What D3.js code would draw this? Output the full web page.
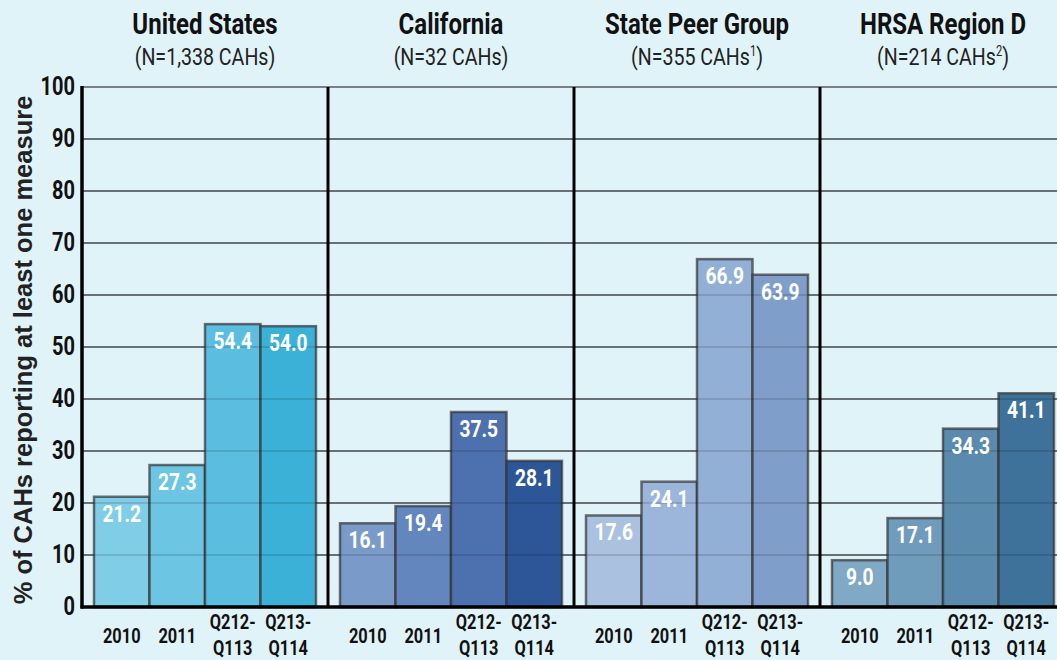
<!DOCTYPE html>
<html>
<head>
<meta charset="utf-8">
<script src="https://cdn.jsdelivr.net/npm/d3@7"></script>
<style>
  body { margin: 0; background: #e0f3f9; }
  svg { display: block; }
  .cond { font-family: Roboto, "Noto Sans", sans-serif; }
</style>
</head>
<body>
<div id="chart"></div>
<script>
// data
var groups = ["United States", "California", "State Peer Group", "HRSA Region D"];
var subtitles = ["(N=1,338 CAHs", "(N=32 CAHs", "(N=355 CAHs", "(N=214 CAHs"];
var notes = ["", "", "1", "2"];
var periods = ["2010", "2011", "Q212-Q113", "Q213-Q114"];
var usVals = [21.2, 27.3, 54.4, 54.0];
var caVals = [16.1, 19.4, 37.5, 28.1];
var peerVals = [17.6, 24.1, 66.9, 63.9];
var hrsaVals = [9.0, 17.1, 34.3, 41.1];
var yTicks = [0, 10, 20, 30, 40, 50, 60, 70, 80, 90, 100];

var colors = [
  ["#80cde7", "#6cc5e2", "#5bbde0", "#3cb1d7"],
  ["#7a9bc9", "#6386be", "#4d70af", "#2c5698"],
  ["#aac1df", "#9bb6da", "#92afd6", "#7f9ec9"],
  ["#80a9c5", "#6f9cbb", "#5a8bae", "#3e729a"]
];

var allVals = [usVals, caVals, peerVals, hrsaVals];
var data = [];
groups.forEach(function(g, gi){
  periods.forEach(function(p, pi){
    data.push({group: g, period: p, value: allVals[gi][pi], color: colors[gi][pi]});
  });
});

var W = 1057, H = 660;
var SX = 0.8; // squeeze to look like a condensed face
var svg = d3.select("#chart").append("svg").attr("width", W).attr("height", H);
svg.append("rect").attr("width", W).attr("height", H).attr("fill", "#e0f3f9");

var y = d3.scaleLinear().domain([0, 100]).range([607, 87]);
var x0 = d3.scaleBand().domain(groups).range([82, 1066]);
var x1 = d3.scaleBand().domain(periods).range([12, 234]);

var barX = function(d){ return x0(d.group) + x1(d.period); };
var place = function(x, y){ return "translate(" + x + "," + y + ") scale(" + SX + ",1)"; };

// gridlines
svg.append("g").selectAll("line").data(yTicks.slice(1)).enter().append("line")
  .attr("x1", 82).attr("x2", W).attr("y1", function(d){ return y(d); }).attr("y2", function(d){ return y(d); })
  .attr("stroke", "#111").attr("stroke-width", 1.2);

// bars
svg.selectAll(".bar").data(data).enter().append("rect")
  .attr("class", "bar")
  .attr("x", barX)
  .attr("width", x1.bandwidth())
  .attr("y", function(d){ return y(d.value); })
  .attr("height", function(d){ return y(0) - y(d.value); })
  .attr("fill", function(d){ return d.color; })
  .attr("stroke", "#333").attr("stroke-opacity", 0.7).attr("stroke-width", 2.5);

// gridlines showing through the bars
svg.append("g").selectAll("line").data(yTicks.slice(1, 10)).enter().append("line")
  .attr("x1", 82).attr("x2", W).attr("y1", function(d){ return y(d); }).attr("y2", function(d){ return y(d); })
  .attr("stroke", "#000").attr("stroke-opacity", 0.25).attr("stroke-width", 1.2);

// value labels
svg.selectAll(".val").data(data).enter().append("text")
  .attr("class", "cond")
  .attr("transform", function(d){ return place(barX(d) + x1.bandwidth() / 2, y(d.value) + 25); })
  .attr("text-anchor", "middle")
  .attr("font-size", 24).attr("font-weight", "bold").attr("fill", "#fff")
  .text(function(d){ return d.value.toFixed(1); });

// panel dividers
svg.selectAll(".div").data(groups.slice(1)).enter().append("line")
  .attr("x1", function(d){ return x0(d); }).attr("x2", function(d){ return x0(d); })
  .attr("y1", y(100)).attr("y2", y(0))
  .attr("stroke", "#000").attr("stroke-width", 3);

// axes lines
svg.append("line").attr("x1", 82).attr("x2", 82).attr("y1", y(100) - 1).attr("y2", y(0) + 1.5)
  .attr("stroke", "#000").attr("stroke-width", 3.5);
svg.append("line").attr("x1", 80.5).attr("x2", W).attr("y1", y(0)).attr("y2", y(0))
  .attr("stroke", "#000").attr("stroke-width", 3.5);

// y tick labels
svg.selectAll(".ytick").data(yTicks).enter().append("text")
  .attr("class", "cond")
  .attr("transform", function(d){ return place(75, y(d) + 8); })
  .attr("text-anchor", "end").attr("font-size", 25).attr("font-weight", "bold").attr("fill", "#111")
  .text(function(d){ return d; });

// y axis title
svg.append("text")
  .attr("transform", "translate(32," + (y(50) + 3) + ") rotate(-90)")
  .attr("text-anchor", "middle")
  .attr("font-family", "Liberation Sans, Arial, sans-serif")
  .attr("font-size", 25.5).attr("font-weight", "bold").attr("fill", "#222")
  .text("% of CAHs reporting at least one measure");

// x labels
svg.selectAll(".xlab").data(data).enter().append("text")
  .attr("class", "cond")
  .attr("text-anchor", "middle").attr("font-size", 20.5).attr("font-weight", "bold").attr("fill", "#111")
  .attr("transform", function(d){ return place(barX(d) + x1.bandwidth() / 2, 0); })
  .each(function(d){
    var parts = d.period.split("-");
    var t = d3.select(this);
    if (parts.length == 1) {
      t.append("tspan").attr("x", 0).attr("y", 643).text(parts[0]);
    } else {
      t.append("tspan").attr("x", 0).attr("y", 629).text(parts[0] + "-");
      t.append("tspan").attr("x", 0).attr("y", 655).text(parts[1]);
    }
  });

// panel titles
svg.selectAll(".title").data(groups).enter().append("text")
  .attr("class", "cond")
  .attr("transform", function(d){ return place(x0(d) + 123, 34); })
  .attr("text-anchor", "middle").attr("font-size", 30).attr("font-weight", "bold").attr("fill", "#111")
  .text(function(d){ return d; });

svg.selectAll(".sub").data(groups).enter().append("text")
  .attr("class", "cond")
  .attr("transform", function(d){ return place(x0(d) + 123, 65); })
  .attr("text-anchor", "middle").attr("font-size", 24.5).attr("fill", "#222")
  .each(function(d, i){
    var t = d3.select(this);
    t.append("tspan").text(subtitles[i]);
    if (notes[i]) t.append("tspan").attr("font-size", 14).attr("dy", -9).text(notes[i]);
    t.append("tspan").attr("dy", notes[i] ? 9 : 0).text(")");
  });
</script>
</body>
</html>
